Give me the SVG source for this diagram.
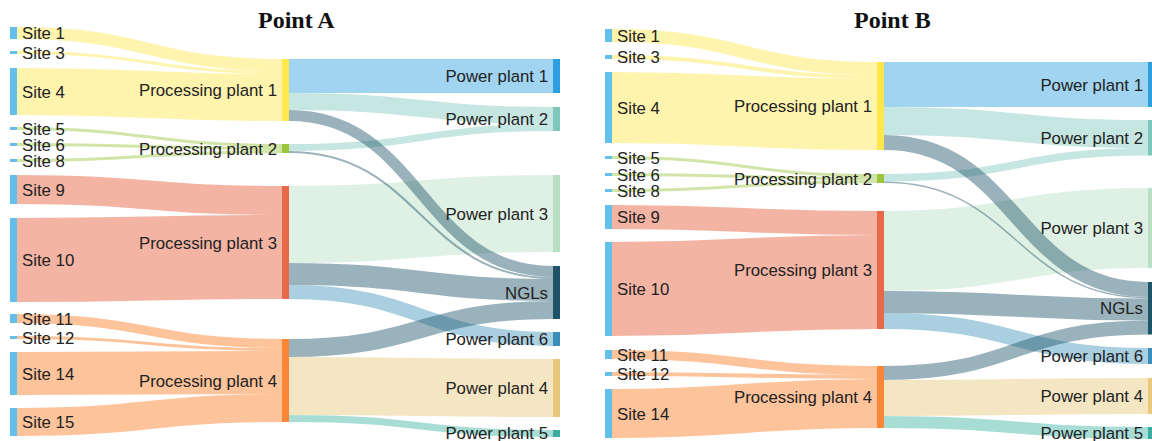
<svg xmlns="http://www.w3.org/2000/svg" width="1152" height="441" viewBox="0 0 1152 441">
<style>
.l{fill:none;stroke-opacity:0.45}
.t{font-family:"Liberation Sans",Arial,sans-serif;font-size:16.8px;fill:#222}
.e{text-anchor:end}
.ttl{font-family:"Liberation Serif","Times New Roman",serif;font-size:24px;font-weight:bold;fill:#111}
.site{fill:#62c0ea}
.p1{stroke:#fde74c}.p2{stroke:#9bc53d}.p3{stroke:#e55934}.p4{stroke:#fa7921}
.w1{stroke:#2d9fe0}.w2{stroke:#7ec7bc}.w3{stroke:#b8dec3}.ng{stroke:#1f5468}.w6{stroke:#4094ba}.w4{stroke:#e9c77a}.w5{stroke:#3eb3a4}
</style>
<rect width="1152" height="441" fill="#fff"/>
<text class="ttl" x="258" y="28">Point A</text>
<text class="ttl" x="854" y="28">Point B</text>

<g id="links-A">
<path class="l p1" stroke-width="12" d="M17 33C149.5 33 149.5 65 282 65"/>
<path class="l p1" stroke-width="3" d="M17 52.5C149.5 52.5 149.5 72.5 282 72.5"/>
<path class="l p1" stroke-width="47" d="M17 91.5C149.5 91.5 149.5 97.5 282 97.5"/>
<path class="l p2" stroke-width="3" d="M17 128.5C149.5 128.5 149.5 145.5 282 145.5"/>
<path class="l p2" stroke-width="3" d="M17 144.5C149.5 144.5 149.5 148.5 282 148.5"/>
<path class="l p2" stroke-width="3" d="M17 160.5C149.5 160.5 149.5 151.5 282 151.5"/>
<path class="l p3" stroke-width="29" d="M17 189.5C149.5 189.5 149.5 200.5 282 200.5"/>
<path class="l p3" stroke-width="84" d="M17 260C149.5 260 149.5 257 282 257"/>
<path class="l p4" stroke-width="9" d="M17 318.5C149.5 318.5 149.5 343.5 282 343.5"/>
<path class="l p4" stroke-width="3" d="M17 337.5C149.5 337.5 149.5 349.5 282 349.5"/>
<path class="l p4" stroke-width="43" d="M17 373.5C149.5 373.5 149.5 372.5 282 372.5"/>
<path class="l p4" stroke-width="28" d="M17 422C149.5 422 149.5 408 282 408"/>
<path class="l w1" stroke-width="34" d="M289 76C421 76 421 76 553 76"/>
<path class="l w2" stroke-width="17" d="M289 101.5C421 101.5 421 115.5 553 115.5"/>
<path class="l w2" stroke-width="7" d="M289 147.5C421 147.5 421 127.5 553 127.5"/>
<path class="l w3" stroke-width="77" d="M289 224.5C421 224.5 421 213.5 553 213.5"/>
<path class="l w6" stroke-width="14" d="M289 292C421 292 421 339 553 339"/>
<path class="l w4" stroke-width="58" d="M289 386C421 386 421 388 553 388"/>
<path class="l w5" stroke-width="7" d="M289 418.5C421 418.5 421 433.5 553 433.5"/>
<path class="l ng" stroke-width="11" d="M289 115.5C421 115.5 421 271.5 553 271.5"/>
<path class="l ng" stroke-width="2" d="M289 152C421 152 421 278 553 278"/>
<path class="l ng" stroke-width="22" d="M289 274C421 274 421 290 553 290"/>
<path class="l ng" stroke-width="18" d="M289 348C421 348 421 310 553 310"/>
</g>

<g id="links-B">
<path class="l p1" stroke-width="13" d="M612 35.5C744.5 35.5 744.5 68.5 877 68.5"/>
<path class="l p1" stroke-width="4" d="M612 57C744.5 57 744.5 77 877 77"/>
<path class="l p1" stroke-width="71" d="M612 107.5C744.5 107.5 744.5 114.5 877 114.5"/>
<path class="l p2" stroke-width="3" d="M612 157.5C744.5 157.5 744.5 175.5 877 175.5"/>
<path class="l p2" stroke-width="3" d="M612 174.5C744.5 174.5 744.5 178.5 877 178.5"/>
<path class="l p2" stroke-width="3" d="M612 190.5C744.5 190.5 744.5 181.5 877 181.5"/>
<path class="l p3" stroke-width="24" d="M612 217C744.5 217 744.5 223 877 223"/>
<path class="l p3" stroke-width="94" d="M612 289C744.5 289 744.5 282 877 282"/>
<path class="l p4" stroke-width="9" d="M612 354.5C744.5 354.5 744.5 370.5 877 370.5"/>
<path class="l p4" stroke-width="4" d="M612 374C744.5 374 744.5 377 877 377"/>
<path class="l p4" stroke-width="49" d="M612 413.5C744.5 413.5 744.5 403.5 877 403.5"/>
<path class="l w1" stroke-width="45" d="M884 84.5C1016 84.5 1016 84.5 1148 84.5"/>
<path class="l w2" stroke-width="28" d="M884 121C1016 121 1016 134 1148 134"/>
<path class="l w2" stroke-width="7.5" d="M884 177.75C1016 177.75 1016 151.75 1148 151.75"/>
<path class="l w3" stroke-width="80" d="M884 251C1016 251 1016 228 1148 228"/>
<path class="l w6" stroke-width="16" d="M884 321C1016 321 1016 356 1148 356"/>
<path class="l w4" stroke-width="36" d="M884 398C1016 398 1016 396 1148 396"/>
<path class="l w5" stroke-width="12" d="M884 422C1016 422 1016 433 1148 433"/>
<path class="l ng" stroke-width="15" d="M884 142.5C1016 142.5 1016 289.5 1148 289.5"/>
<path class="l ng" stroke-width="1.5" d="M884 182.25C1016 182.25 1016 297.75 1148 297.75"/>
<path class="l ng" stroke-width="22" d="M884 302C1016 302 1016 309.5 1148 309.5"/>
<path class="l ng" stroke-width="14" d="M884 373C1016 373 1016 327.5 1148 327.5"/>
</g>

<g id="A-site1"><rect class="site" x="10" y="27" width="7" height="12"/><text class="t" x="22" y="39">Site 1</text></g>
<g id="A-site3"><rect class="site" x="10" y="51" width="7" height="3"/><text class="t" x="22" y="58.5">Site 3</text></g>
<g id="A-site4"><rect class="site" x="10" y="68" width="7" height="47"/><text class="t" x="22" y="97.5">Site 4</text></g>
<g id="A-site5"><rect class="site" x="10" y="127" width="7" height="3"/><text class="t" x="22" y="134.5">Site 5</text></g>
<g id="A-site6"><rect class="site" x="10" y="143" width="7" height="3"/><text class="t" x="22" y="150.5">Site 6</text></g>
<g id="A-site8"><rect class="site" x="10" y="159" width="7" height="3"/><text class="t" x="22" y="166.5">Site 8</text></g>
<g id="A-site9"><rect class="site" x="10" y="175" width="7" height="29"/><text class="t" x="22" y="195.5">Site 9</text></g>
<g id="A-site10"><rect class="site" x="10" y="218" width="7" height="84"/><text class="t" x="22" y="266">Site 10</text></g>
<g id="A-site11"><rect class="site" x="10" y="314" width="7" height="9"/><text class="t" x="22" y="324.5">Site 11</text></g>
<g id="A-site12"><rect class="site" x="10" y="336" width="7" height="3"/><text class="t" x="22" y="343.5">Site 12</text></g>
<g id="A-site14"><rect class="site" x="10" y="352" width="7" height="43"/><text class="t" x="22" y="379.5">Site 14</text></g>
<g id="A-site15"><rect class="site" x="10" y="408" width="7" height="28"/><text class="t" x="22" y="428">Site 15</text></g>

<g id="A-pp1"><rect x="282" y="59" width="7" height="62" fill="#fde74c"/><text class="t e" x="277" y="96">Processing plant 1</text></g>
<g id="A-pp2"><rect x="282" y="144" width="7" height="9" fill="#9bc53d"/><text class="t e" x="277" y="154.5">Processing plant 2</text></g>
<g id="A-pp3"><rect x="282" y="186" width="7" height="113" fill="#e55934" fill-opacity="0.9"/><text class="t e" x="277" y="248.5">Processing plant 3</text></g>
<g id="A-pp4"><rect x="282" y="339" width="7" height="83" fill="#fa7921" fill-opacity="0.9"/><text class="t e" x="277" y="386.5">Processing plant 4</text></g>

<g id="A-pw1"><rect x="553" y="59" width="7" height="34" fill="#2d9fe0"/><text class="t e" x="548" y="82">Power plant 1</text></g>
<g id="A-pw2"><rect x="553" y="107" width="7" height="24" fill="#7ec7bc"/><text class="t e" x="548" y="125">Power plant 2</text></g>
<g id="A-pw3"><rect x="553" y="175" width="7" height="77" fill="#b8dec3"/><text class="t e" x="548" y="219.5">Power plant 3</text></g>
<g id="A-ngl"><rect x="553" y="266" width="7" height="53" fill="#1f5468"/><text class="t e" x="548" y="298.5">NGLs</text></g>
<g id="A-pw6"><rect x="553" y="332" width="7" height="14" fill="#3a8fba"/><text class="t e" x="548" y="345">Power plant 6</text></g>
<g id="A-pw4"><rect x="553" y="359" width="7" height="58" fill="#e9c77a"/><text class="t e" x="548" y="394">Power plant 4</text></g>
<g id="A-pw5"><rect x="553" y="430" width="7" height="7" fill="#3aada0"/><text class="t e" x="548" y="439">Power plant 5</text></g>

<g id="B-site1"><rect class="site" x="605" y="29" width="7" height="13"/><text class="t" x="617" y="41.5">Site 1</text></g>
<g id="B-site3"><rect class="site" x="605" y="55" width="7" height="4"/><text class="t" x="617" y="63">Site 3</text></g>
<g id="B-site4"><rect class="site" x="605" y="72" width="7" height="71"/><text class="t" x="617" y="113.5">Site 4</text></g>
<g id="B-site5"><rect class="site" x="605" y="156" width="7" height="3"/><text class="t" x="617" y="163.5">Site 5</text></g>
<g id="B-site6"><rect class="site" x="605" y="173" width="7" height="3"/><text class="t" x="617" y="180.5">Site 6</text></g>
<g id="B-site8"><rect class="site" x="605" y="189" width="7" height="3"/><text class="t" x="617" y="196.5">Site 8</text></g>
<g id="B-site9"><rect class="site" x="605" y="205" width="7" height="24"/><text class="t" x="617" y="223">Site 9</text></g>
<g id="B-site10"><rect class="site" x="605" y="242" width="7" height="94"/><text class="t" x="617" y="295">Site 10</text></g>
<g id="B-site11"><rect class="site" x="605" y="350" width="7" height="9"/><text class="t" x="617" y="360.5">Site 11</text></g>
<g id="B-site12"><rect class="site" x="605" y="372" width="7" height="4"/><text class="t" x="617" y="380">Site 12</text></g>
<g id="B-site14"><rect class="site" x="605" y="389" width="7" height="49"/><text class="t" x="617" y="419.5">Site 14</text></g>

<g id="B-pp1"><rect x="877" y="62" width="7" height="88" fill="#fde74c"/><text class="t e" x="872" y="112">Processing plant 1</text></g>
<g id="B-pp2"><rect x="877" y="174" width="7" height="9" fill="#9bc53d"/><text class="t e" x="872" y="184.5">Processing plant 2</text></g>
<g id="B-pp3"><rect x="877" y="211" width="7" height="118" fill="#e55934" fill-opacity="0.9"/><text class="t e" x="872" y="276">Processing plant 3</text></g>
<g id="B-pp4"><rect x="877" y="366" width="7" height="62" fill="#fa7921" fill-opacity="0.9"/><text class="t e" x="872" y="403">Processing plant 4</text></g>

<g id="B-pw1"><rect x="1148" y="62" width="7" height="45" fill="#2d9fe0"/><text class="t e" x="1143" y="90.5">Power plant 1</text></g>
<g id="B-pw2"><rect x="1148" y="120" width="7" height="35.5" fill="#7ec7bc"/><text class="t e" x="1143" y="144">Power plant 2</text></g>
<g id="B-pw3"><rect x="1148" y="188" width="7" height="80" fill="#b8dec3"/><text class="t e" x="1143" y="234">Power plant 3</text></g>
<g id="B-ngl"><rect x="1148" y="282" width="7" height="52.5" fill="#1f5468"/><text class="t e" x="1143" y="314">NGLs</text></g>
<g id="B-pw6"><rect x="1148" y="348" width="7" height="16" fill="#3a8fba"/><text class="t e" x="1143" y="362">Power plant 6</text></g>
<g id="B-pw4"><rect x="1148" y="378" width="7" height="36" fill="#e9c77a"/><text class="t e" x="1143" y="402">Power plant 4</text></g>
<g id="B-pw5"><rect x="1148" y="427" width="7" height="12" fill="#3aada0"/><text class="t e" x="1143" y="439">Power plant 5</text></g>
</svg>
